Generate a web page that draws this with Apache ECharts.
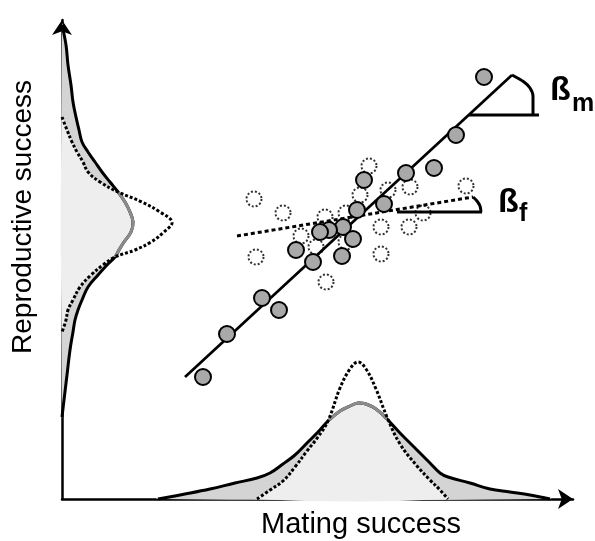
<!DOCTYPE html>
<html><head><meta charset="utf-8">
<script src="https://cdn.jsdelivr.net/npm/echarts@6/dist/echarts.min.js"></script>
<style>html,body{margin:0;padding:0;background:#fff}#c{width:595px;height:541px}</style>
</head><body><div id="c"></div>
<script>
// ---- data (units: pixels from the axis origin) ----
// bottom distribution (mating success)
const bottomX      = [96,123,148,173,195,208,221,233,245,256,266,278,288,296,304,314,325,338,355,368,378,386,408,428,448,468,488];
const bottomMale   = [0,5,10,16,21,26,35,44,56,67,78,88,93,96,95,90,80,66,49,36,26,22,16,10,7,4,0];
const bottomFemale = [null,null,null,null,0,9,18,32,48,62,78,111,130,137,130,110,82,55,33,19,9,0,null,null,null,null,null];
const bottomCross  = [266,325];
// left distribution (reproductive success)
const leftY      = [474,454,434,414,397,382,369,357,347,337,327,317,307,297,287,277,267,257,249,242,234,224,212,199,189,179,167,149,124,99,82];
const leftMale   = [0,4,6,9,11,14,17,20,26,33,40,48,56,63,68,71,69,62,57,53,45,36,26,20,16,13,11,8,5,2,0];
const leftFemale = [null,null,null,null,null,0,5,10,15,21,26,38,56,80,98,110,102,89,73,53,41,29,18,11,6,4,0,null,null,null,null];
const leftCross  = [242,307];
// scatter points
const maleX   = [422,394,372,344,302,322,295,281,267,258,291,234,280,251,200,217,165,141];
const maleY   = [422,364,331,326,319,295,289,272,269,267,260,249,243,237,201,189,165,122];
const femaleX = [307,348,404,298,326,192,221,263,284,319,347,361,239,254,284,194,319,264];
const femaleY = [333,312,313,304,309,300,286,282,286,272,272,286,263,252,257,242,245,217];
// regression lines
const maleFitX = [123,450], maleFitY = [122,424];
const femaleFitX = [175,411], femaleFitY = [263,302];
// slope markers
const maleArcX = [450,462,468,471,471], maleArcY = [424,417,411,403,384];
const maleBaseX = [407,477], maleBaseY = [384,384];
const femaleArcX = [411,415,418,419], femaleArcY = [302,298,293,287];
const femaleBaseX = [335,420], femaleBaseY = [287,287];
// texts
const xTitle = 'Mating success';
const yTitle = 'Reproductive success';
const betaChar = 'ß', maleSub = 'm', femaleSub = 'f';

const pairs = (xs, ys) => xs.map((x, i) => [x, ys[i]]);
const S = 0.4;

function distSeries(kind) {
  return {
    type: 'custom', coordinateSystem: 'cartesian2d', data: [[0, 0]], silent: true, z: 1,
    renderItem: function (params, api) {
      const male = [], female = [], minPts = [];
      let clip;
      if (kind === 'bottom') {
        bottomX.forEach((x, i) => {
          male.push(api.coord([x, bottomMale[i]]));
          if (bottomFemale[i] != null) {
            female.push(api.coord([x, bottomFemale[i]]));
            minPts.push(api.coord([x, Math.min(bottomFemale[i], bottomMale[i])]));
          }
        });
        const a = api.coord([bottomCross[0], 0]), b = api.coord([bottomCross[1], 0]);
        clip = { x: a[0], y: 0, width: b[0] - a[0], height: 541 };
      } else {
        leftY.forEach((y, i) => {
          male.push(api.coord([leftMale[i], y]));
          if (leftFemale[i] != null) {
            female.push(api.coord([leftFemale[i], y]));
            minPts.push(api.coord([Math.min(leftFemale[i], leftMale[i]), y]));
          }
        });
        const a = api.coord([0, leftCross[1]]), b = api.coord([0, leftCross[0]]);
        clip = { x: 0, y: a[1], width: 595, height: b[1] - a[1] };
      }
      return {
        type: 'group', children: [
          { type: 'polygon', shape: { points: male, smooth: S }, style: { fill: '#d4d4d4' } },
          { type: 'polygon', shape: { points: minPts, smooth: S }, style: { fill: '#eeeeee' } },
          { type: 'polyline', shape: { points: male, smooth: S }, style: { fill: 'none', stroke: '#000', lineWidth: 3 } },
          { type: 'polyline', shape: { points: male, smooth: S }, style: { fill: 'none', stroke: '#8c8c8c', lineWidth: 3 },
            clipPath: { type: 'rect', shape: clip } },
          { type: 'polyline', shape: { points: female, smooth: S }, style: { fill: 'none', stroke: '#000', lineWidth: 3, lineDash: [3, 2] } }
        ]
      };
    }
  };
}

function lineSeries(xs, ys, extra) {
  return Object.assign({
    type: 'line', data: pairs(xs, ys), showSymbol: false, silent: true, z: 2,
    lineStyle: { color: '#000', width: 3 }
  }, extra || {});
}

const axisCommon = {
  type: 'value', min: 0,
  splitLine: { show: false }, axisTick: { show: false }, axisLabel: { show: false },
  axisLine: { show: true, symbol: ['none', 'arrow'], symbolSize: [15, 15], lineStyle: { color: '#000', width: 2.5 } }
};

const chart = echarts.init(document.getElementById('c'));
chart.setOption({
  animation: false,
  backgroundColor: '#fff',
  grid: { left: 62, right: 22, top: 20, bottom: 42 },
  xAxis: Object.assign({}, axisCommon, { max: 511 }),
  yAxis: Object.assign({}, axisCommon, { max: 479 }),
  series: [
    distSeries('bottom'),
    distSeries('left'),
    lineSeries(maleFitX, maleFitY, { lineStyle: { color: '#000', width: 2.7 } }),
    lineSeries(femaleFitX, femaleFitY, { lineStyle: { color: '#000', width: 3, type: [4, 3] } }),
    lineSeries(maleArcX, maleArcY, { smooth: 0.3 }),
    lineSeries(maleBaseX, maleBaseY),
    lineSeries(femaleArcX, femaleArcY, { smooth: 0.3 }),
    lineSeries(femaleBaseX, femaleBaseY),
    { type: 'scatter', data: pairs(femaleX, femaleY), symbolSize: 15, silent: true, z: 3,
      itemStyle: { color: 'rgba(255,255,255,0)', borderColor: '#000', borderWidth: 2, borderType: [2, 2] } },
    { type: 'scatter', data: pairs(maleX, maleY), symbolSize: 16, silent: true, z: 4,
      itemStyle: { color: '#a9a9a9', borderColor: '#000', borderWidth: 2, opacity: 1 } }
  ],
  graphic: [
    { type: 'text', x: 361, y: 525, silent: true,
      style: { text: xTitle, font: '29px "Liberation Sans", Arial, sans-serif', fill: '#000', textAlign: 'center', textVerticalAlign: 'middle' } },
    { type: 'text', x: 23, y: 217, rotation: Math.PI / 2, silent: true,
      style: { text: yTitle, font: '28px "Liberation Sans", Arial, sans-serif', fill: '#000', textAlign: 'center', textVerticalAlign: 'middle' } },
    { type: 'text', x: 550, y: 91, silent: true,
      style: { text: betaChar, font: 'bold 34px "Liberation Sans", Arial, sans-serif', fill: '#000', textAlign: 'left', textVerticalAlign: 'middle' } },
    { type: 'text', x: 572, y: 104, silent: true,
      style: { text: maleSub, font: 'bold 25px "Liberation Sans", Arial, sans-serif', fill: '#000', textAlign: 'left', textVerticalAlign: 'middle' } },
    { type: 'text', x: 498, y: 203, silent: true,
      style: { text: betaChar, font: 'bold 34px "Liberation Sans", Arial, sans-serif', fill: '#000', textAlign: 'left', textVerticalAlign: 'middle' } },
    { type: 'text', x: 519, y: 214, silent: true,
      style: { text: femaleSub, font: 'bold 25px "Liberation Sans", Arial, sans-serif', fill: '#000', textAlign: 'left', textVerticalAlign: 'middle' } }
  ]
});
</script>
</body></html>
